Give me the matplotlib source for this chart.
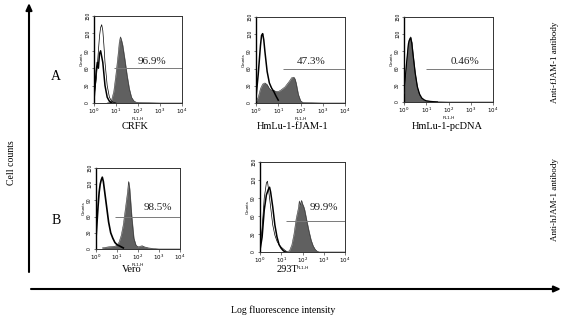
import numpy as np
import matplotlib
matplotlib.use("Agg")
import matplotlib.pyplot as plt

W, H = 568, 319

# ---------------- data (x in log10 fluorescence units, y in counts) ----------------
# Panel A1: CRFK
crfk_fill_x = [0.6, 0.7, 0.8, 0.9, 1.0, 1.1, 1.15, 1.2, 1.25, 1.3, 1.4, 1.5, 1.6, 1.7, 1.8, 1.9, 2.0, 2.5, 3.0, 4.0]
crfk_fill_y = [0, 1, 5, 20, 50, 85, 105, 114, 108, 100, 75, 48, 25, 10, 4, 1.5, 1, 0.5, 0, 0]
crfk_thin_x = [0, 0.1, 0.2, 0.25, 0.3, 0.35, 0.4, 0.45, 0.5, 0.6, 0.7, 0.8, 0.9, 1.0]
crfk_thin_y = [10, 40, 90, 115, 130, 135, 125, 100, 70, 30, 10, 3, 1, 0]
crfk_thick_x = [0, 0.05, 0.1, 0.15, 0.2, 0.25, 0.3, 0.35, 0.4, 0.45, 0.5, 0.55, 0.6, 0.7, 0.8]
crfk_thick_y = [5, 30, 55, 70, 60, 85, 90, 80, 70, 50, 30, 20, 10, 3, 0]

# Panel A2: HmLu-1-fJAM-1
fjam_fill_x = [0, 0.1, 0.2, 0.3, 0.4, 0.5, 0.6, 0.7, 0.8, 0.9, 1.0, 1.1, 1.2, 1.3, 1.4, 1.5, 1.6, 1.7, 1.75, 1.8, 1.9, 2.0, 2.1, 2.5, 3.0, 4.0]
fjam_fill_y = [2, 10, 25, 33, 35, 32, 25, 22, 22, 20, 20, 22, 25, 28, 33, 38, 44, 45, 42, 35, 15, 4, 1, 0.5, 0, 0]
fjam_open_x = [0, 0.1, 0.2, 0.25, 0.3, 0.35, 0.4, 0.5, 0.6, 0.7, 0.8, 0.9, 1.0]
fjam_open_y = [10, 50, 100, 118, 121, 110, 90, 55, 35, 26, 20, 12, 5]

# Panel A3: HmLu-1-pcDNA
pc_fill_x = [0, 0.1, 0.2, 0.25, 0.3, 0.35, 0.4, 0.5, 0.6, 0.7, 0.8, 0.9, 1.0, 1.2, 1.5, 2.0, 4.0]
pc_fill_y = [15, 60, 105, 112, 115, 105, 85, 50, 25, 12, 6, 3, 2, 1, 0.5, 0, 0]
pc_open_x = [0, 0.1, 0.2, 0.25, 0.3, 0.35, 0.4, 0.5, 0.6, 0.7, 0.8, 0.9, 1.0, 1.2, 1.5]
pc_open_y = [18, 62, 103, 110, 113, 104, 86, 52, 27, 14, 7, 4, 2, 1, 0]

# Panel B1: Vero
vero_fill_x = [0.3, 0.6, 0.9, 1.0, 1.1, 1.2, 1.3, 1.4, 1.5, 1.55, 1.6, 1.7, 1.8, 1.9, 2.0, 2.1, 2.2, 2.3, 2.5, 2.7, 3.0, 4.0]
vero_fill_y = [2, 4, 5, 7, 13, 25, 45, 75, 105, 125, 112, 60, 20, 7, 4, 5, 6, 4, 2, 1, 0, 0]
vero_open_x = [0, 0.05, 0.1, 0.15, 0.2, 0.25, 0.3, 0.35, 0.4, 0.5, 0.6, 0.7, 0.8, 0.9, 1.0, 1.1, 1.2, 1.3]
vero_open_y = [20, 50, 80, 105, 120, 128, 133, 125, 110, 80, 50, 30, 20, 12, 8, 6, 4, 2]

# Panel B2: 293T
t293_fill_x = [1.3, 1.4, 1.5, 1.6, 1.7, 1.8, 1.85, 1.9, 1.95, 2.0, 2.05, 2.1, 2.2, 2.3, 2.4, 2.5, 2.6, 2.7, 2.8, 3.0, 4.0]
t293_fill_y = [0, 3, 12, 30, 55, 72, 85, 78, 86, 80, 76, 70, 52, 35, 20, 10, 4, 1, 0, 0, 0]
t293_thin_x = [0, 0.1, 0.2, 0.3, 0.35, 0.4, 0.5, 0.6, 0.7, 0.8, 0.9, 1.0, 1.1, 1.2, 1.3]
t293_thin_y = [5, 40, 90, 115, 118, 105, 75, 45, 28, 18, 12, 8, 5, 2, 0]
t293_thick_x = [0, 0.1, 0.2, 0.3, 0.4, 0.45, 0.5, 0.6, 0.7, 0.8, 0.9, 1.0, 1.1, 1.2]
t293_thick_y = [3, 25, 70, 95, 105, 108, 100, 75, 45, 25, 12, 6, 2, 0]

# Percentage markers: (start of gate in log10 units, height in counts, label)
gate_start = [0.9, 1.2, 1.0, 0.9, 1.2]
gate_level = [61, 60, 58, 60, 52]
gate_text = ["96.9%", "47.3%", "0.46%", "98.5%", "99.9%"]
cell_names = ["CRFK", "HmLu-1-fJAM-1", "HmLu-1-pcDNA", "Vero", "293T"]
yticks_counts = [0, 30, 60, 90, 120, 150]
xtick_decades = [0, 1, 2, 3, 4]

# ---------------- layout ----------------
fig = plt.figure(figsize=(W / 100, H / 100), dpi=100)
SERIF = "Liberation Serif"
SANS = "Liberation Sans"

def rect(l, r, t, b):
    return [l / W, 1 - b / H, (r - l) / W, (b - t) / H]

panel_px = [(94, 182, 16, 103), (256, 345, 17, 103), (404, 493, 17, 102),
            (96, 180, 168, 249), (260, 345, 162, 252)]
text_pos = [(152, 61), (311, 62), (465, 62), (158, 208), (324, 208)]
name_pos = [(135, 126), (293, 126), (447, 126), (132, 270), (287, 270)]

FILL = "#606060"
GATE = "#7a7a7a"

fills = [(crfk_fill_x, crfk_fill_y), (fjam_fill_x, fjam_fill_y), (pc_fill_x, pc_fill_y),
         (vero_fill_x, vero_fill_y), (t293_fill_x, t293_fill_y)]
opens = [
    [(crfk_thin_x, crfk_thin_y, 0.5), (crfk_thick_x, crfk_thick_y, 1.1)],
    [(fjam_open_x, fjam_open_y, 1.1)],
    [(pc_open_x, pc_open_y, 0.9)],
    [(vero_open_x, vero_open_y, 1.2)],
    [(t293_thin_x, t293_thin_y, 0.5), (t293_thick_x, t293_thick_y, 1.1)],
]

for i, (l, r, t, b) in enumerate(panel_px):
    ax = fig.add_axes(rect(l, r, t, b))
    fx = 10 ** np.asarray(fills[i][0], dtype=float)
    fy = np.asarray(fills[i][1], dtype=float)
    ax.fill_between(fx, fy, facecolor=FILL, edgecolor=FILL, lw=0.3, zorder=2)
    ax.plot(fx, fy, color="#333333", lw=0.4, zorder=3)
    ax.hlines(gate_level[i], 10 ** gate_start[i], 1e4, color=GATE, lw=0.7, zorder=4)
    for ox, oy, lw in opens[i]:
        ax.plot(10 ** np.asarray(ox, dtype=float), oy, color="black", lw=lw, zorder=5)
    ax.set_xscale("log")
    ax.set_xlim(1, 1e4)
    ax.set_ylim(0, 150)
    ax.set_yticks(yticks_counts)
    ax.set_yticklabels([str(v) for v in yticks_counts], rotation=90, va="center",
                       fontsize=3.5, family=SANS)
    ax.set_xticks([10.0 ** d for d in xtick_decades])
    ax.set_xticklabels([rf"$10^{{{d}}}$" for d in xtick_decades], fontsize=4)
    ax.tick_params(axis="both", which="major", length=1.8, width=0.5, pad=1, color="#444444")
    ax.tick_params(axis="x", which="minor", length=1.0, width=0.4, color="#444444")
    ax.set_ylabel("Counts", fontsize=3.2, family=SANS, labelpad=1)
    ax.set_xlabel("FL1-H", fontsize=3.2, family=SANS, labelpad=0.5)
    for s in ax.spines.values():
        s.set_linewidth(0.7)
        s.set_color("#333333")
    ax.spines["left"].set_linewidth(1.0)
    ax.spines["left"].set_color("black")
    tx, ty = text_pos[i]
    fig.text(tx / W, 1 - ty / H, gate_text[i], ha="center", va="center",
             fontsize=8, family=SERIF, color="#222222")
    nx, ny = name_pos[i]
    fig.text(nx / W, 1 - ny / H, cell_names[i], ha="center", va="center",
             fontsize=7.5, family=SERIF)

# Big arrows
fig.add_artist(matplotlib.patches.FancyArrowPatch(
    (29 / W, 1 - 272 / H), (29 / W, 1 - 3 / H), transform=fig.transFigure,
    arrowstyle="-|>,head_length=4,head_width=1.8", lw=1.5, color="black",
    shrinkA=0, shrinkB=0))
fig.add_artist(matplotlib.patches.FancyArrowPatch(
    (31 / W, 1 - 289 / H), (561 / W, 1 - 289 / H), transform=fig.transFigure,
    arrowstyle="-|>,head_length=4,head_width=1.8", lw=1.5, color="black",
    shrinkA=0, shrinkB=0))

fig.text(12 / W, 1 - 163 / H, "Cell counts", rotation=90, ha="center", va="center",
         fontsize=7, family=SERIF)
fig.text(283 / W, 1 - 310 / H, "Log fluorescence intensity", ha="center", va="center",
         fontsize=7, family=SERIF)
fig.text(56 / W, 1 - 77 / H, "A", ha="center", va="center", fontsize=10, family=SERIF)
fig.text(56 / W, 1 - 221 / H, "B", ha="center", va="center", fontsize=10, family=SERIF)
fig.text(555 / W, 1 - 62 / H, "Anti-fJAM-1 antibody", rotation=90, ha="center",
         va="center", fontsize=6.5, family=SERIF)
fig.text(555 / W, 1 - 200 / H, "Anti-hJAM-1 antibody", rotation=90, ha="center",
         va="center", fontsize=6.5, family=SERIF)

fig.savefig("out.png", dpi=100)
